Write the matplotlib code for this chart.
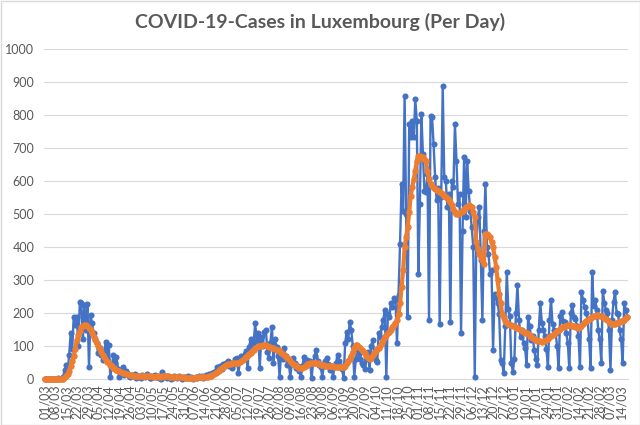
import numpy as np
import pandas as pd
import matplotlib
matplotlib.use('Agg')
import matplotlib.pyplot as plt
from matplotlib.patches import Rectangle

plt.rcParams['font.family'] = ['Lato', 'DejaVu Sans']

start_date = '2020-03-01'
title = 'COVID-19-Cases in Luxembourg (Per Day)'

# daily new cases
cases = [
    0, 0, 0, 0, 0, 1, 0, 1, 0, 2,
    0, 2, 5, 27, 42, 26, 73, 138, 90, 189,
    164, 189, 100, 234, 229, 120, 224, 150, 227, 35,
    194, 169, 138, 120, 108, 78, 93, 73, 58, 80,
    113, 60, 103, 7, 40, 73, 50, 68, 30, 7,
    20, 35, 12, 25, 18, 10, 5, 12, 8, 15,
    3, 10, 6, 2, 12, 8, 5, 15, 10, 3,
    2, 8, 12, 5, 10, 4, 1, 22, 5, 10,
    3, 8, 6, 1, 4, 10, 6, 3, 8, 5,
    0, 2, 6, 4, 9, 3, 5, 0, 3, 7,
    4, 10, 5, 8, 2, 6, 12, 9, 15, 10,
    18, 22, 25, 35, 28, 40, 30, 45, 42, 47,
    55, 40, 50, 32, 45, 60, 65, 17, 55, 70,
    60, 75, 85, 32, 98, 120, 100, 110, 169, 115,
    138, 32, 128, 100, 143, 148, 83, 63, 110, 159,
    47, 120, 98, 70, 7, 80, 60, 93, 70, 42,
    50, 7, 45, 63, 50, 32, 40, 25, 7, 40,
    68, 50, 58, 45, 55, 2, 50, 70, 88, 55,
    42, 35, 7, 40, 55, 63, 45, 27, 40, 7,
    35, 50, 73, 55, 40, 30, 2, 108, 143, 120,
    174, 148, 100, 7, 60, 88, 75, 60, 50, 42,
    30, 60, 83, 27, 100, 118, 80, 58, 52, 138,
    128, 158, 180, 208, 7, 198, 188, 229, 218, 244,
    239, 108, 254, 410, 591, 510, 858, 500, 188, 772,
    732, 782, 732, 848, 782, 319, 530, 803, 682, 571,
    566, 620, 178, 798, 793, 712, 611, 541, 580, 168,
    551, 888, 611, 601, 521, 560, 173, 601, 581, 772,
    662, 531, 561, 138, 450, 672, 490, 662, 571, 510,
    460, 400, 7, 410, 490, 520, 360, 178, 450, 591,
    400, 380, 319, 330, 88, 259, 249, 229, 198, 57,
    47, 17, 160, 324, 213, 190, 47, 22, 62, 200,
    284, 180, 128, 150, 108, 95, 42, 188, 160, 118,
    130, 87, 60, 42, 150, 229, 170, 148, 130, 90,
    37, 180, 239, 168, 150, 140, 100, 32, 190, 203,
    175, 173, 140, 110, 32, 200, 224, 188, 183, 160,
    130, 37, 264, 240, 219, 200, 180, 120, 32, 324,
    220, 239, 208, 148, 120, 50, 266, 230, 208, 200,
    150, 27, 180, 234, 264, 200, 198, 150, 120, 47,
    230, 210, 188,
]

# 7-day average series
avg7 = [
    0, 0, 0, 0, 0, 0, 0, 0, 0, 0,
    0, 0, 1, 5, 10, 14, 24, 40, 55, 70,
    92, 118, 132, 145, 158, 162, 165, 164, 160, 154,
    148, 140, 128, 118, 108, 100, 92, 82, 74, 66,
    58, 52, 48, 42, 38, 34, 30, 27, 25, 23,
    21, 19, 17, 15, 14, 13, 12, 11, 10, 10,
    9, 9, 8, 8, 8, 8, 8, 8, 8, 8,
    8, 7, 7, 8, 8, 7, 7, 9, 9, 9,
    8, 8, 7, 7, 7, 6, 6, 6, 5, 5,
    5, 5, 4, 4, 4, 4, 4, 4, 4, 4,
    5, 5, 5, 5, 5, 6, 6, 7, 8, 10,
    12, 14, 17, 21, 25, 29, 32, 36, 40, 42,
    44, 45, 46, 47, 47, 48, 50, 50, 52, 55,
    58, 63, 68, 72, 76, 80, 84, 88, 93, 97,
    100, 100, 101, 102, 103, 102, 100, 98, 96, 95,
    93, 91, 89, 87, 84, 80, 76, 72, 68, 64,
    60, 55, 50, 46, 42, 38, 35, 33, 32, 33,
    36, 40, 44, 46, 47, 47, 47, 48, 48, 47,
    45, 43, 42, 41, 40, 39, 39, 39, 38, 38,
    37, 37, 36, 36, 35, 35, 35, 40, 48, 55,
    62, 70, 82, 95, 103, 102, 98, 93, 88, 84,
    78, 70, 64, 60, 65, 72, 78, 85, 90, 95,
    100, 108, 118, 128, 133, 138, 142, 150, 158, 165,
    170, 178, 198, 229, 279, 329, 400, 430, 460, 505,
    556, 581, 606, 631, 662, 677, 675, 672, 672, 668,
    662, 630, 606, 590, 585, 580, 576, 574, 570, 566,
    565, 560, 556, 552, 548, 541, 536, 528, 516, 506,
    500, 500, 503, 505, 510, 515, 520, 522, 526, 524,
    520, 505, 490, 415, 395, 380, 370, 360, 350, 440,
    440, 435, 430, 415, 400, 370, 340, 300, 259, 230,
    198, 185, 175, 170, 168, 165, 163, 162, 160, 158,
    156, 152, 148, 145, 143, 140, 138, 135, 132, 128,
    125, 122, 118, 116, 115, 114, 113, 114, 116, 118,
    122, 126, 130, 133, 137, 141, 145, 149, 153, 157,
    158, 160, 162, 163, 164, 163, 162, 160, 158, 157,
    156, 158, 162, 167, 172, 176, 180, 183, 186, 189,
    191, 192, 193, 193, 192, 190, 188, 185, 182, 178,
    174, 170, 168, 167, 168, 170, 172, 173, 175, 177,
    180, 184, 188,
]

y_ticks = list(range(0, 1001, 100))

dates = pd.date_range(start_date, periods=len(cases), freq='D')
tick_idx = list(range(0, len(cases), 7))
tick_labels = [dates[i].strftime('%d/%m') for i in tick_idx]

fig = plt.figure(figsize=(6.4, 4.25), dpi=100)
ax = fig.add_axes([44 / 640, 1 - 379 / 425, (628 - 44) / 640, (379 - 49) / 425])

x1 = np.arange(len(cases))
x2 = np.arange(len(avg7))
ax.plot(x1, cases, color='#4472C4', lw=1.7, marker='o', ms=4.4,
        markeredgewidth=0, zorder=3, clip_on=False)
ax.plot(x2, avg7, color='#ED7D31', lw=3.0, marker='o', ms=4.6,
        markeredgewidth=0, zorder=4, clip_on=False)

ax.set_xlim(-0.5, len(cases) - 0.5)
ax.set_ylim(0, 1000)
ax.set_yticks(y_ticks)
ax.grid(axis='y', color='#D9D9D9', lw=0.8)
ax.set_axisbelow(True)
for s in ['left', 'right', 'top']:
    ax.spines[s].set_visible(False)
ax.spines['bottom'].set_color('#D9D9D9')
ax.spines['bottom'].set_linewidth(0.8)
ax.set_xticks(tick_idx)
ax.set_xticklabels(tick_labels, rotation=90)
ax.tick_params(axis='both', length=0, colors='#595959', labelsize=9)
ax.tick_params(axis='y', pad=7)
ax.tick_params(axis='x', pad=4)

fig.text(0.5, 1 - 22 / 425, title, ha='center', va='center', fontsize=14,
         fontweight='bold', color='#595959')

fig.patches.append(Rectangle((0.5 / 640, 0.5 / 425), 1 - 1 / 640, 1 - 1 / 425,
                             transform=fig.transFigure, fill=False,
                             edgecolor='#D9D9D9', lw=1))

fig.savefig('out.png', dpi=100)
